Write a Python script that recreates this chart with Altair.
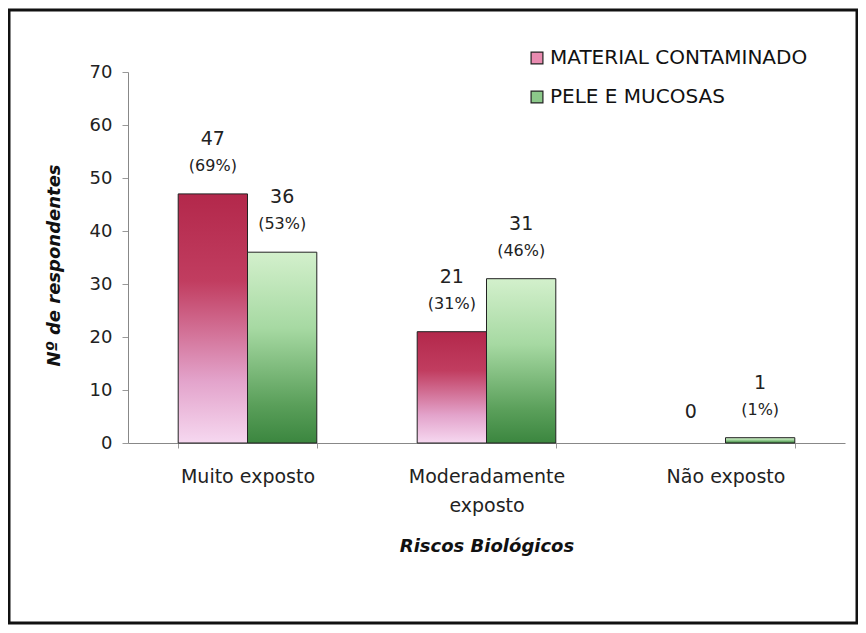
import altair as alt
import pandas as pd

categories = ["Muito exposto", "Moderadamente exposto", "Não exposto"]
series = ["MATERIAL CONTAMINADO", "PELE E MUCOSAS"]
material = [47, 21, 0]
pele = [36, 31, 1]
material_pct = ["(69%)", "(31%)", ""]
pele_pct = ["(53%)", "(46%)", "(1%)"]

rows = []
for i, c in enumerate(categories):
    for s, vals, pcts in ((series[0], material, material_pct), (series[1], pele, pele_pct)):
        v = vals[i]
        p = pcts[i]
        rows.append({"cat": c, "serie": s, "n": v, "pct": p, "val": str(v)})
df = pd.DataFrame(rows)

font = "DejaVu Sans"

red_grad = alt.Gradient(
    gradient="linear", x1=0, x2=0, y1=0, y2=1,
    stops=[alt.GradientStop(color="#b3284b", offset=0),
           alt.GradientStop(color="#c13d60", offset=0.35),
           alt.GradientStop(color="#e3a3cb", offset=0.75),
           alt.GradientStop(color="#f6d8f0", offset=1)])
green_grad = alt.Gradient(
    gradient="linear", x1=0, x2=0, y1=0, y2=1,
    stops=[alt.GradientStop(color="#d3f0cc", offset=0),
           alt.GradientStop(color="#a6d9a2", offset=0.4),
           alt.GradientStop(color="#5a9f5a", offset=0.8),
           alt.GradientStop(color="#3b863f", offset=1)])

x = alt.X("cat:N", sort=categories, title="Riscos Biológicos",
          scale=alt.Scale(paddingInner=0.42, paddingOuter=0.21),
          axis=alt.Axis(labelAngle=0, labelFont=font, labelFontSize=19, labelColor="#222",
                        labelPadding=19, tickBand="extent", tickSize=5, tickColor="#999",
                        domainColor="#888", titleFont=font, titleFontSize=18,
                        titleFontStyle="italic", titleFontWeight="bold", titleColor="#111",
                        titlePadding=22,
                        labelExpr="datum.label == 'Moderadamente exposto' ? ['Moderadamente', 'exposto'] : datum.label",
                        labelLineHeight=29))
y = alt.Y("n:Q", title="Nº de respondentes",
          scale=alt.Scale(domain=[0, 70], nice=False),
          axis=alt.Axis(values=[0, 10, 20, 30, 40, 50, 60, 70], grid=False,
                        labelFont=font, labelFontSize=18, labelColor="#222", labelPadding=10,
                        tickSize=6, tickColor="#999", domainColor="#888",
                        titleFont=font, titleFontSize=18, titleFontStyle="italic",
                        titleFontWeight="bold", titleColor="#111", titlePadding=26,
                        titleY=193))
xo = alt.XOffset("serie:N", sort=series)

base = alt.Chart(df)

legend_layer = base.mark_bar(opacity=0).encode(
    x=x, y=y, xOffset=xo,
    color=alt.Color("serie:N", sort=series,
                    scale=alt.Scale(domain=series, range=["#e98bb0", "#8cc98a"]),
                    legend=alt.Legend(title=None, orient="none", legendX=399, legendY=-24,
                                      symbolType="square", symbolSize=140,
                                      symbolOpacity=1, symbolStrokeColor="#222",
                                      symbolStrokeWidth=1.2, labelFont=font,
                                      labelFontSize=20, labelColor="#111", labelLimit=400,
                                      rowPadding=19, labelOffset=3)))

red_bars = base.mark_bar(color=red_grad, stroke="#222", strokeWidth=1).encode(
    x=x, y=y, xOffset=xo).transform_filter((alt.datum.serie == series[0]) & (alt.datum.n > 0))
green_bars = base.mark_bar(color=green_grad, stroke="#222", strokeWidth=1).encode(
    x=x, y=y, xOffset=xo).transform_filter((alt.datum.serie == series[1]) & (alt.datum.n > 0))

t1 = base.mark_text(font=font, fontSize=19, color="#222", dy=-55, baseline="middle").encode(
    x=x, y=y, xOffset=xo, text="val:N").transform_filter(alt.datum.n > 0)
t2 = base.mark_text(font=font, fontSize=16, color="#222", dy=-28, baseline="middle").encode(
    x=x, y=y, xOffset=xo, text="pct:N").transform_filter(alt.datum.n > 0)
t0 = base.mark_text(font=font, fontSize=19, color="#222", dy=-31, baseline="middle").encode(
    x=x, y=y, xOffset=xo, text="val:N").transform_filter(alt.datum.n == 0)

frame = alt.Chart(pd.DataFrame({"a": [0]})).mark_rect(
    fill=None, stroke="#111", strokeWidth=3).encode(
    x=alt.value(-119), x2=alt.value(729), y=alt.value(-62), y2=alt.value(551))

chart = alt.layer(legend_layer, red_bars, green_bars, t1, t2, t0, frame).properties(
    width=717, height=371,
    autosize=alt.AutoSizeParams(type="none"),
    padding={"left": 120, "top": 64, "right": 13, "bottom": 182},
    background="white",
).configure_view(stroke=None)

chart.save("out.html", embed_options={"renderer": "svg", "actions": False})
